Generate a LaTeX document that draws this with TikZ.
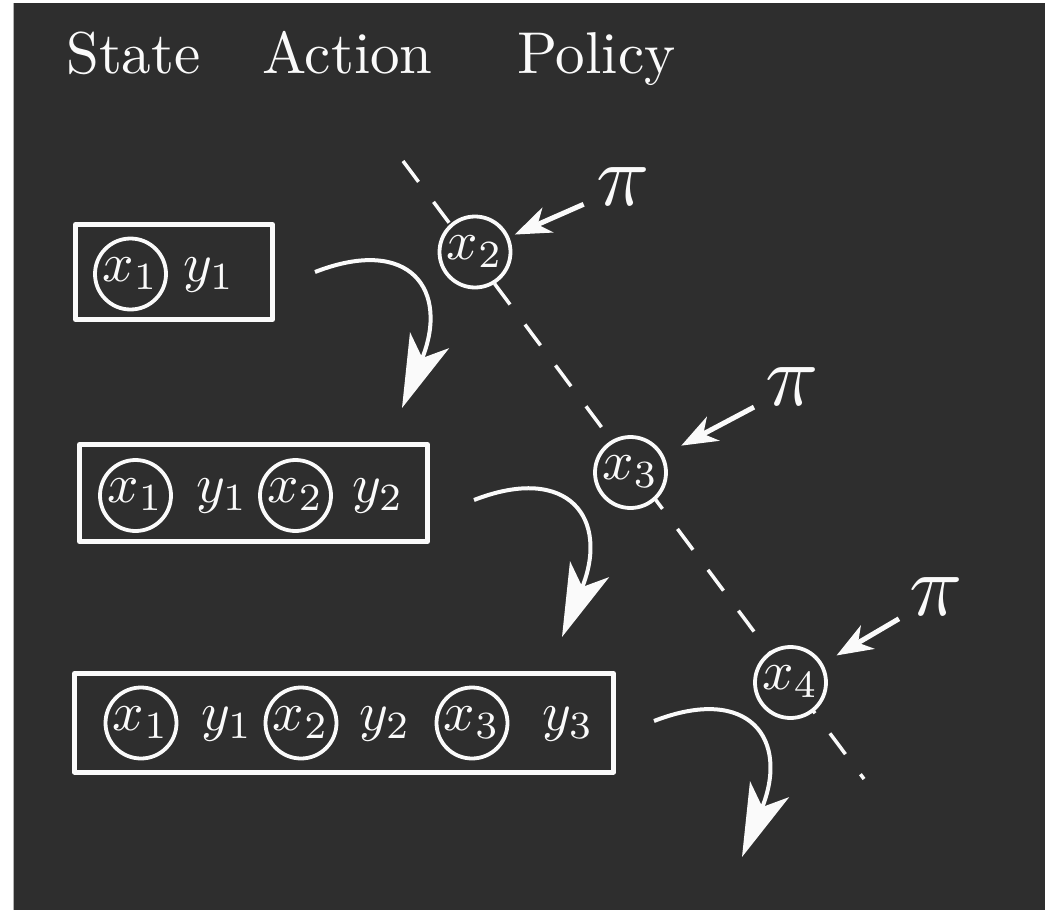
\documentclass[tikz,border=0pt]{standalone}
\usetikzlibrary{arrows.meta,calc}
\definecolor{board}{RGB}{46,46,46}
\definecolor{chalk}{RGB}{250,250,250}
\newcommand{\titletext}[1]{\scalebox{5.9}{#1}}
\newcommand{\bigmath}[1]{\scalebox{5.5}{$#1$}}
\newcommand{\hugemath}[1]{\scalebox{8.8}{$#1$}}
\tikzset{
  heading/.style={text=chalk, anchor=base west, inner sep=0pt},
  sym/.style={text=chalk, inner sep=0pt},
  obs/.style={sym, circle, draw=chalk, fill=board, line width=3.8pt, minimum size=71pt,
    text height=22pt, text depth=8pt},
  act/.style={sym, anchor=base west},
  frame/.style={rectangle, draw=chalk, line width=5pt, line join=round, inner sep=0pt},
  policy/.style={text=chalk, inner sep=0pt},
  pointer/.style={draw=chalk, line width=5pt, shorten <=43pt,
    -{Stealth[length=36pt,width=27pt,inset=11pt]}},
  flow/.style={draw=chalk, line width=4pt, -{Stealth[length=73pt,width=42pt,inset=19pt]}},
  trace/.style={draw=chalk, line width=3.5pt, dash pattern=on 26pt off 25pt}
}
\begin{document}
\begin{tikzpicture}[x=1pt,y=-1pt]
  \useasboundingbox (0,0) rectangle (1045,910);
  % board
  \fill[white] (0,0) rectangle (1045,910);
  \fill[board] (13,3) rectangle (1045,910);
  \draw[gray!60, line width=1.5pt] (13.5,3) -- (13.5,910);

  % column headings
  \node[heading] (hstate) at (66,73) {\titletext{State}};
  \node[heading] (haction) at (262,73) {\titletext{Action}};
  \node[heading] (hpolicy) at (517,73) {\titletext{Policy}};

  % trajectory of visited states
  \coordinate (d0) at (403,161);
  \coordinate (d1) at (864,779);
  \draw[trace] (d0) -- (d1);

  % histories
  \node[frame, minimum width=197pt, minimum height=95pt] (box1) at (174,272) {};
  \node[obs] (b1x1) at (130.5,274) {\bigmath{x_1}};
  \node[act] (b1y1) at (183,281) {\bigmath{y_1}};

  \node[frame, minimum width=348pt, minimum height=97pt] (box2) at (253.5,493) {};
  \node[obs] (b2x1) at (135.5,495.5) {\bigmath{x_1}};
  \node[act] (b2y1) at (196,502.5) {\bigmath{y_1}};
  \node[obs] (b2x2) at (295.5,495.5) {\bigmath{x_2}};
  \node[act] (b2y2) at (352,502.5) {\bigmath{y_2}};

  \node[frame, minimum width=539pt, minimum height=98.5pt] (box3) at (344,722.75) {};
  \node[obs] (b3x1) at (141,723) {\bigmath{x_1}};
  \node[act] (b3y1) at (201,730) {\bigmath{y_1}};
  \node[obs] (b3x2) at (301,723) {\bigmath{x_2}};
  \node[act] (b3y2) at (359,730) {\bigmath{y_2}};
  \node[obs] (b3x3) at (472,723) {\bigmath{x_3}};
  \node[act] (b3y3) at (542,730) {\bigmath{y_3}};

  % next states on the trajectory
  \node[obs] (s2) at (475,252) {\bigmath{x_2}};
  \node[obs] (s3) at (630.5,472.5) {\bigmath{x_3}};
  \node[obs] (s4) at (790.5,682.5) {\bigmath{x_4}};

  % policy
  \node[policy] (p1) at (623,187) {\hugemath{\pi}};
  \node[policy] (p2) at (792,387) {\hugemath{\pi}};
  \node[policy] (p3) at (936,597) {\hugemath{\pi}};
  \draw[pointer, shorten >=6pt] (p1.center) -- (s2);
  \draw[pointer, shorten >=20pt] (p2.center) -- (s3);
  \draw[pointer, shorten >=16pt] (p3.center) -- (s4);

  % transitions to the next history
  \coordinate (a1s) at (315,272);  \coordinate (a1e) at (402,408);
  \coordinate (a2s) at (474,500);  \coordinate (a2e) at (562,637);
  \coordinate (a3s) at (654,721);  \coordinate (a3e) at (742,857);
  \draw[flow] (a1s) .. controls ($(a1s)+(95,-37)$) and ($(a1e)+(48,-118)$) .. (a1e);
  \draw[flow] (a2s) .. controls ($(a2s)+(95,-37)$) and ($(a2e)+(48,-118)$) .. (a2e);
  \draw[flow] (a3s) .. controls ($(a3s)+(95,-37)$) and ($(a3e)+(48,-118)$) .. (a3e);
\end{tikzpicture}
\end{document}
